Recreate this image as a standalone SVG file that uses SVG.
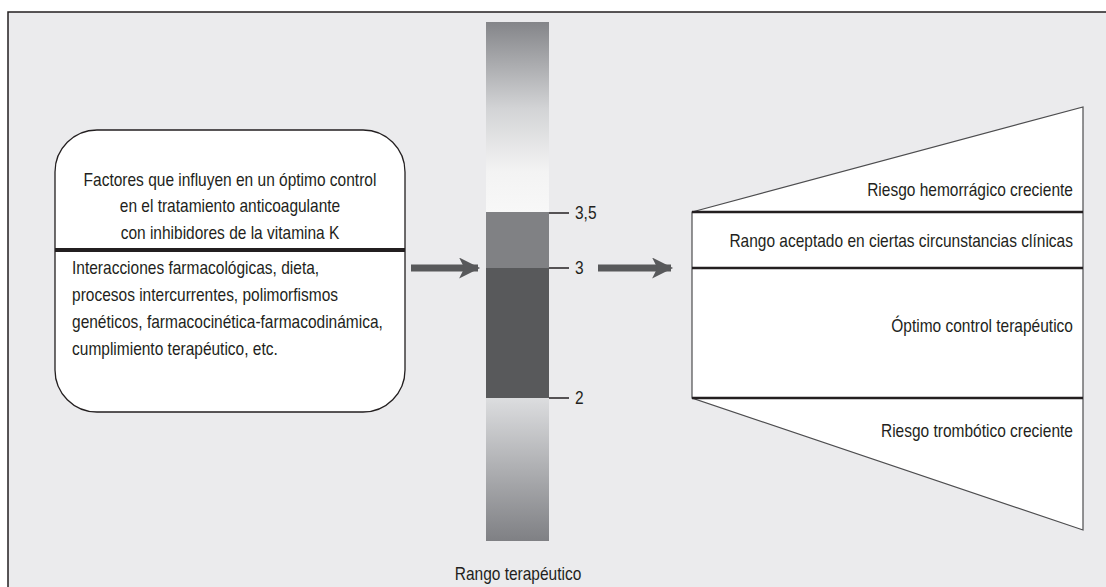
<svg xmlns="http://www.w3.org/2000/svg" width="1106" height="587" viewBox="0 0 1106 587">
  <defs>
    <linearGradient id="gTop" x1="0" y1="0" x2="0" y2="1">
      <stop offset="0" stop-color="#848589"/>
      <stop offset="0.45" stop-color="#d2d3d5"/>
      <stop offset="0.78" stop-color="#f3f3f3"/>
      <stop offset="1" stop-color="#f8f8f8"/>
    </linearGradient>
    <linearGradient id="gBot" x1="0" y1="0" x2="0" y2="1">
      <stop offset="0" stop-color="#dcdddf"/>
      <stop offset="1" stop-color="#7f8084"/>
    </linearGradient>
    <marker id="ah" viewBox="0 0 10 10" refX="9" refY="5" markerWidth="4" markerHeight="3" orient="auto" markerUnits="strokeWidth">
      <path d="M0,0 L10,5 L0,10 L2.5,5 Z" fill="#58595b"/>
    </marker>
  </defs>
  <style>
    text { font-family: "Liberation Sans", Arial, sans-serif; font-size: 17.5px; fill: #231f20; }
    .ctr { text-anchor: middle; }
    .rgt { text-anchor: end; }
    .frame { fill: #ebebed; stroke: #231f20; stroke-width: 1.5; }
    .box { fill: #ffffff; stroke: #231f20; stroke-width: 1.3; }
    .sep { stroke: #231f20; stroke-width: 4; }
    .band { stroke: #231f20; stroke-width: 2.5; }
    .tick { stroke: #231f20; stroke-width: 1.5; }
    .arrow { stroke: #58595b; stroke-width: 7; fill: none; }
    .trap { fill: #ffffff; stroke: #4d4d4f; stroke-width: 1.2; }
  </style>
  <rect x="0" y="0" width="1106" height="587" fill="#ffffff"/>
  <path class="frame" d="M8,600 L8,12 L1110,12 L1110,600 Z"/>

  <g id="factores">
    <rect class="box" x="55" y="130" width="350" height="282" rx="42" ry="42"/>
    <line class="sep" x1="55" y1="250" x2="405" y2="250"/>
    <g transform="scale(0.886,1)">
      <text class="ctr" x="259.6" y="186">Factores que influyen en un óptimo control</text>
      <text class="ctr" x="259.6" y="212">en el tratamiento anticoagulante</text>
      <text class="ctr" x="259.6" y="239">con inhibidores de la vitamina K</text>
      <text x="81.3" y="274">Interacciones farmacológicas, dieta,</text>
      <text x="81.3" y="301">procesos intercurrentes, polimorfismos</text>
      <text x="81.3" y="328">genéticos, farmacocinética-farmacodinámica,</text>
      <text x="81.3" y="355">cumplimiento terapéutico, etc.</text>
    </g>
  </g>

  <g id="rango">
    <rect x="486" y="22" width="63" height="191" fill="url(#gTop)"/>
    <rect x="486" y="212" width="63" height="57" fill="#808184"/>
    <rect x="486" y="268" width="63" height="131" fill="#58595b"/>
    <rect x="486" y="398" width="63" height="143" fill="url(#gBot)"/>
    <line class="tick" x1="549" y1="213" x2="569" y2="213"/>
    <line class="tick" x1="549" y1="268" x2="569" y2="268"/>
    <line class="tick" x1="549" y1="398" x2="569" y2="398"/>
    <g transform="scale(0.886,1)">
      <text x="649" y="219">3,5</text>
      <text x="649" y="274">3</text>
      <text x="649" y="404">2</text>
      <text class="ctr" x="584.7" y="580">Rango terapéutico</text>
    </g>
  </g>

  <g id="riesgo">
    <polygon class="trap" points="692,212 1083,107 1083,530 692,398"/>
    <line class="band" x1="692" y1="212" x2="1083" y2="212"/>
    <line class="band" x1="692" y1="268" x2="1083" y2="268"/>
    <line class="band" x1="692" y1="398" x2="1083" y2="398"/>
    <g transform="scale(0.886,1)">
      <text class="rgt" x="1211" y="196">Riesgo hemorrágico creciente</text>
      <text class="rgt" x="1211" y="247">Rango aceptado en ciertas circunstancias clínicas</text>
      <text class="rgt" x="1211" y="332">Óptimo control terapéutico</text>
      <text class="rgt" x="1211" y="437">Riesgo trombótico creciente</text>
    </g>
  </g>

  <g id="connectors">
    <line class="arrow" x1="411" y1="268" x2="478" y2="268" marker-end="url(#ah)"/>
    <line class="arrow" x1="598" y1="268" x2="671" y2="268" marker-end="url(#ah)"/>
  </g>
</svg>
